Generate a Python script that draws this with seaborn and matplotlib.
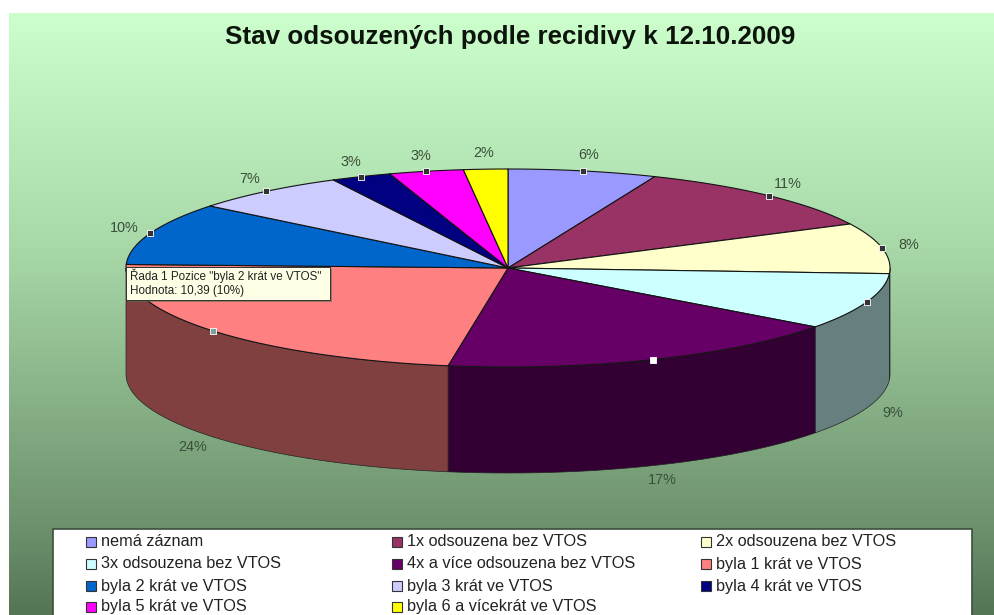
# ── Imports ──────────────────────────────────────────────────
import numpy as np
import matplotlib
matplotlib.use('Agg')
import matplotlib.pyplot as plt
import seaborn as sns
from matplotlib.colors import LinearSegmentedColormap
from matplotlib.patches import Rectangle

# ── Data ─────────────────────────────────────────────────────
title = 'Stav odsouzených podle recidivy k 12.10.2009'
categories = ['nemá záznam', '1x odsouzena bez VTOS', '2x odsouzena bez VTOS',
              '3x odsouzena bez VTOS', '4x a více odsouzena bez VTOS', 'byla 1 krát ve VTOS',
              'byla 2 krát ve VTOS', 'byla 3 krát ve VTOS', 'byla 4 krát ve VTOS',
              'byla 5 krát ve VTOS', 'byla 6 a vícekrát ve VTOS']
# shares estimated from the drawn slices, the printed labels are rounded
values = [6.4, 11.6, 8.4, 9.4, 17.7, 23.5, 10.39, 6.8, 2.6, 3.2, 1.9]
pct_labels = ['6%', '11%', '8%', '9%', '17%', '24%', '10%', '7%', '3%', '3%', '2%']
tooltip = ['Řada 1 Pozice "byla 2 krát ve VTOS"', 'Hodnota: 10,39 (10%)']
colors = ['#9999ff', '#993366', '#ffffcc', '#ccffff', '#660066', '#ff8080',
          '#0066cc', '#ccccff', '#000080', '#ff00ff', '#ffff00']

# ── Style ────────────────────────────────────────────────────
sns.set_theme(style='white')
plt.rcParams['font.family'] = ['Liberation Sans', 'DejaVu Sans']
palette = sns.color_palette(colors)
dark_palette = [tuple(c * 0.5 for c in col) for col in palette]

W, H = 995, 615
fig = plt.figure(figsize=(W / 100, H / 100), dpi=100, facecolor='white')
ax = fig.add_axes([0, 0, 1, 1])

# ── Background gradient ──────────────────────────────────────
bg = LinearSegmentedColormap.from_list(
    'bg', [(0, '#ccffcc'), (0.39, '#a8d8a8'), (0.86, '#6c906c'), (1, '#557555')])
ax.imshow(np.linspace(0, 1, 256).reshape(-1, 1), cmap=bg, aspect='auto',
          extent=(9, W, H, 13), zorder=0)
ax.set_xlim(0, W)
ax.set_ylim(H, 0)
ax.axis('off')

# ── Pie geometry ─────────────────────────────────────────────
cx, cy, rx, ry, depth = 508, 268, 382, 99, 106
shares = np.array(values) / sum(values)
edges = np.concatenate([[0], np.cumsum(shares)]) * 2 * np.pi


def rim(theta):
    return cx + rx * np.sin(theta), cy - ry * np.cos(theta)


# side wall first, only the part between 90 and 270 degrees is visible
for i in range(len(values)):
    a = max(edges[i], np.pi / 2)
    b = min(edges[i + 1], 3 * np.pi / 2)
    if a >= b:
        continue
    t = np.linspace(a, b, 60)
    x, y = rim(t)
    ax.fill(np.r_[x, x[::-1]], np.r_[y, y[::-1] + depth], color=dark_palette[i],
            ec='#222222', lw=0.5, zorder=2)

# top of the pie
for i in range(len(values)):
    t = np.linspace(edges[i], edges[i + 1], 80)
    x, y = rim(t)
    ax.fill(np.r_[cx, x], np.r_[cy, y], facecolor=palette[i],
            edgecolor='#141414', lw=0.8, joinstyle='round', zorder=3)

# selection handles and percent labels
mids = (edges[:-1] + edges[1:]) / 2
for i, m in enumerate(mids):
    front = np.pi / 2 < m < 3 * np.pi / 2
    if i < len(values) - 1:
        hx, hy = rim(m)
        face = 'white' if i == 4 else '#7f9f9f' if i == 5 else '#333333'
        ax.scatter(hx, hy, marker='s', s=22, c=face, edgecolors='white', linewidths=0.6, zorder=4)
    lx = cx + (rx + 27) * np.sin(m)
    ly = cy - (ry + 16) * np.cos(m) + (depth if front else 0)
    ax.text(lx, ly, pct_labels[i], ha='center', va='center', fontsize=10.4,
            color='#3a4f3a', zorder=5)

# ── Title ────────────────────────────────────────────────────
ax.text(510, 37, title, ha='center', va='center', fontsize=18.7,
        fontweight='bold', color='#0c140c', zorder=5)

# ── Tooltip ──────────────────────────────────────────────────
ax.add_patch(Rectangle((128, 269), 204, 33, fc='#5a6a50', ec='none', alpha=0.6, zorder=5))
ax.add_patch(Rectangle((126, 267), 204, 33, fc='#ffffe6', ec='#333333', lw=0.7, zorder=6))
ax.text(130, 275.5, tooltip[0], ha='left', va='center', fontsize=8.4, color='#222222', zorder=7)
ax.text(130, 291, tooltip[1], ha='left', va='center', fontsize=8.4, color='#222222', zorder=7)

# ── Legend ───────────────────────────────────────────────────
ax.add_patch(Rectangle((53, 529), 919, 90, fc='white', ec='#3c4f3c', lw=1.2, zorder=5))
col_x = [86, 392, 701]
row_y = [541.5, 564, 586, 607]
for i, name in enumerate(categories):
    sx, sy = col_x[i % 3], row_y[i // 3]
    ax.add_patch(Rectangle((sx, sy - 5), 10, 10, fc=palette[i], ec='#333333', lw=0.8, zorder=6))
    ax.text(sx + 15, sy, name, ha='left', va='center', fontsize=11.7,
            color='#222222', zorder=6)

plt.savefig('out.png', dpi=100)
